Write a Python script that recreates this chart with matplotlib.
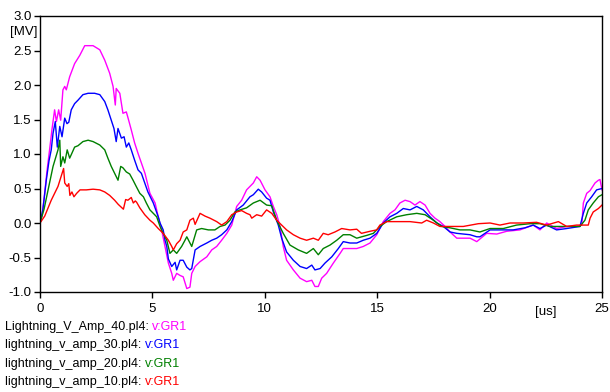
import matplotlib
matplotlib.use("Agg")
import matplotlib.pyplot as plt

plt.rcParams['font.family'] = ['Liberation Sans', 'DejaVu Sans']

# Time axis in microseconds, voltages in MV
t_40 = [0, 0.09, 0.18, 0.31, 0.44, 0.53, 0.65, 0.73, 0.83, 0.92, 1.02, 1.10, 1.17, 1.32,
        1.54, 1.77, 1.99, 2.36, 2.66, 2.88, 3.10, 3.25, 3.35, 3.39, 3.55, 3.69, 3.84, 3.91,
        4.06, 4.21, 4.36, 4.51, 4.67, 4.89, 5.12, 5.26, 5.41, 5.56, 5.71, 5.86, 5.93, 6.08,
        6.23, 6.37, 6.53, 6.67, 6.75, 6.90, 7.12, 7.42, 7.64, 7.86, 8.08, 8.31, 8.53, 8.75,
        8.97, 9.19, 9.34, 9.49, 9.64, 9.79, 10.01, 10.23, 10.38, 10.53, 10.68, 10.82, 10.97,
        11.27, 11.57, 11.86, 12.09, 12.23, 12.38, 12.53, 12.75, 13.05, 13.35, 13.49, 13.79,
        14.09, 14.38, 14.68, 14.98, 15.27, 15.57, 15.79, 16.01, 16.24, 16.46, 16.68, 16.90,
        17.13, 17.35, 17.57, 17.79, 18.02, 18.24, 18.54, 18.83, 19.13, 19.43, 19.87, 20.32,
        20.76, 21.35, 21.94, 22.24, 22.54, 22.98, 23.43, 23.87, 24.10, 24.17, 24.32, 24.47,
        24.69, 24.84, 24.91, 25.0]
v_40 = [0, 0.10, 0.35, 0.75, 1.10, 1.35, 1.64, 1.47, 1.64, 1.49, 1.93, 1.98, 1.93, 2.12,
        2.31, 2.43, 2.57, 2.57, 2.51, 2.36, 2.17, 1.98, 1.71, 1.95, 1.88, 1.59, 1.61, 1.53,
        1.35, 1.16, 1.01, 0.87, 0.72, 0.43, 0.29, 0.09, -0.10, -0.34, -0.58, -0.73, -0.83, -0.73,
        -0.76, -0.78, -0.95, -0.93, -0.73, -0.63, -0.56, -0.49, -0.39, -0.34, -0.25, -0.15, -0.03, 0.24,
        0.33, 0.48, 0.53, 0.58, 0.67, 0.62, 0.48, 0.38, 0.24, 0.12, -0.05, -0.34, -0.54,
        -0.68, -0.80, -0.85, -0.83, -0.92, -0.92, -0.80, -0.73, -0.58, -0.44, -0.37, -0.37,
        -0.37, -0.34, -0.29, -0.17, 0.02, 0.14, 0.19, 0.29, 0.33, 0.31, 0.26, 0.31,
        0.26, 0.14, 0.07, 0.02, -0.05, -0.13, -0.22, -0.22, -0.22, -0.27, -0.15, -0.16,
        -0.12, -0.10, -0.03, -0.10, 0.00, -0.08, -0.05, -0.05, -0.03, 0.29, 0.43, 0.47,
        0.58, 0.62, 0.63, 0.48]

t_30 = [0, 0.13, 0.28, 0.40, 0.50, 0.58, 0.68, 0.77, 0.88, 0.98, 1.10, 1.20, 1.28, 1.39,
        1.54, 1.69, 1.91, 2.14, 2.43, 2.66, 2.88, 3.02, 3.17, 3.29, 3.39, 3.47, 3.62, 3.74,
        3.84, 3.95, 4.06, 4.21, 4.36, 4.51, 4.66, 4.80, 5.04, 5.26, 5.34, 5.48, 5.56, 5.64,
        5.71, 5.86, 6.01, 6.08, 6.23, 6.37, 6.53, 6.67, 6.75, 6.90, 7.12, 7.42, 7.64, 7.86,
        8.08, 8.31, 8.53, 8.75, 9.04, 9.34, 9.49, 9.71, 9.86, 10.08, 10.23, 10.38, 10.60,
        10.75, 10.97, 11.27, 11.57, 11.86, 12.09, 12.23, 12.46, 12.68, 12.98, 13.27, 13.49,
        13.79, 14.09, 14.38, 14.68, 14.98, 15.27, 15.57, 15.87, 16.16, 16.46, 16.76, 17.05,
        17.35, 17.65, 17.94, 18.24, 18.54, 19.13, 19.43, 19.57, 20.02, 20.46, 21.05, 21.57,
        21.94, 22.24, 22.54, 22.98, 23.43, 24.02, 24.17, 24.32, 24.54, 24.76, 25.0]
v_30 = [0, 0.20, 0.62, 0.90, 1.06, 1.30, 1.47, 1.10, 1.40, 1.25, 1.52, 1.44, 1.46, 1.64,
        1.73, 1.78, 1.86, 1.88, 1.88, 1.86, 1.76, 1.64, 1.49, 1.37, 1.18, 1.37, 1.23, 1.25,
        1.10, 1.16, 1.06, 0.91, 0.77, 0.72, 0.58, 0.45, 0.29, 0.09, 0.00, -0.10, -0.25, -0.34,
        -0.52, -0.63, -0.57, -0.68, -0.54, -0.54, -0.64, -0.68, -0.66, -0.39, -0.34, -0.29, -0.25, -0.22,
        -0.17, -0.10, 0.02, 0.19, 0.26, 0.38, 0.41, 0.49, 0.45, 0.36, 0.33, 0.16, -0.03,
        -0.22, -0.42, -0.54, -0.63, -0.66, -0.61, -0.68, -0.66, -0.58, -0.49, -0.37, -0.27,
        -0.29, -0.29, -0.25, -0.22, -0.15, 0.00, 0.09, 0.14, 0.21, 0.19, 0.24, 0.19,
        0.09, 0.00, -0.05, -0.13, -0.15, -0.17, -0.20, -0.20, -0.10, -0.10, -0.10, -0.07,
        -0.03, -0.08, -0.03, -0.10, -0.08, -0.05, 0.14, 0.29, 0.38, 0.48, 0.50]

t_20 = [0, 0.18, 0.36, 0.58, 0.80, 0.88, 0.92, 1.02, 1.10, 1.21, 1.32, 1.39, 1.54, 1.69,
        1.91, 2.14, 2.36, 2.66, 2.88, 3.02, 3.17, 3.32, 3.47, 3.59, 3.69, 3.84, 3.99, 4.14,
        4.28, 4.44, 4.60, 4.73, 4.89, 5.19, 5.34, 5.48, 5.64, 5.78, 5.93, 6.08, 6.30, 6.45,
        6.53, 6.75, 6.97, 7.19, 7.49, 7.78, 8.01, 8.23, 8.45, 8.67, 8.90, 9.19, 9.49, 9.79,
        10.08, 10.31, 10.53, 10.82, 11.12, 11.49, 11.86, 12.16, 12.38, 12.60, 12.90, 13.20,
        13.49, 13.79, 14.09, 14.53, 14.83, 15.12, 15.42, 15.87, 16.31, 16.76, 17.13, 17.50,
        17.87, 18.24, 18.68, 19.13, 19.57, 20.02, 20.61, 21.20, 21.80, 22.24, 22.69, 23.28,
        24.02, 24.24, 24.39, 24.61, 24.84, 25.0]
v_20 = [0, 0.20, 0.48, 0.82, 1.06, 1.20, 0.82, 0.96, 0.87, 1.06, 0.94, 0.99, 1.10, 1.12,
        1.18, 1.20, 1.18, 1.13, 1.06, 0.94, 0.82, 0.72, 0.62, 0.82, 0.80, 0.74, 0.71, 0.62,
        0.53, 0.43, 0.38, 0.29, 0.19, 0.09, -0.05, -0.15, -0.25, -0.44, -0.39, -0.44, -0.34, -0.25,
        -0.20, -0.34, -0.10, -0.08, -0.10, -0.10, -0.05, -0.03, 0.04, 0.16, 0.19, 0.22, 0.29, 0.33,
        0.26, 0.25, 0.04, -0.15, -0.32, -0.39, -0.44, -0.37, -0.46, -0.37, -0.32, -0.25,
        -0.17, -0.17, -0.22, -0.18, -0.15, -0.05, 0.02, 0.09, 0.12, 0.14, 0.12, 0.04,
        -0.05, -0.07, -0.10, -0.10, -0.13, -0.08, -0.08, -0.03, -0.01, -0.01, -0.05, -0.05,
        -0.05, 0.04, 0.19, 0.29, 0.38, 0.41]

t_10 = [0, 0.21, 0.50, 0.80, 1.05, 1.10, 1.21, 1.28, 1.33, 1.42, 1.51, 1.63, 1.78, 2.06,
        2.36, 2.66, 2.88, 3.10, 3.32, 3.48, 3.71, 3.81, 3.91, 4.06, 4.15, 4.24, 4.30, 4.44,
        4.66, 4.89, 5.04, 5.26, 5.48, 5.71, 5.86, 5.93, 6.08, 6.23, 6.37, 6.53, 6.67, 6.82,
        6.90, 7.12, 7.34, 7.56, 7.86, 8.08, 8.31, 8.53, 8.75, 8.97, 9.19, 9.34, 9.42, 9.64,
        9.86, 10.08, 10.31, 10.53, 10.75, 10.97, 11.27, 11.57, 11.86, 12.16, 12.38, 12.60,
        12.82, 13.12, 13.42, 13.79, 14.09, 14.30, 14.68, 14.98, 15.12, 15.42, 15.87, 16.46,
        16.98, 17.20, 17.50, 17.79, 18.24, 18.83, 19.50, 20.02, 20.46, 20.91, 21.50, 22.09,
        22.54, 23.06, 23.43, 23.87, 24.39, 24.47, 24.61, 24.84, 25.0]
v_10 = [0, 0.10, 0.33, 0.53, 0.79, 0.58, 0.53, 0.57, 0.40, 0.45, 0.38, 0.43, 0.48, 0.48,
        0.49, 0.48, 0.45, 0.40, 0.33, 0.27, 0.20, 0.34, 0.33, 0.37, 0.29, 0.32, 0.30, 0.22,
        0.12, 0.04, 0.00, -0.08, -0.15, -0.25, -0.34, -0.39, -0.30, -0.25, -0.13, -0.10, 0.04, 0.07,
        -0.02, 0.14, 0.10, 0.07, 0.02, -0.03, 0.02, 0.12, 0.16, 0.18, 0.14, 0.12, 0.07, 0.12,
        0.10, 0.19, 0.14, 0.04, -0.03, -0.10, -0.17, -0.22, -0.25, -0.22, -0.25, -0.15,
        -0.17, -0.13, -0.08, -0.10, -0.09, -0.15, -0.12, -0.10, -0.03, 0.02, 0.02, 0.02,
        0.00, 0.04, 0.00, -0.05, -0.05, -0.05, -0.01, 0.00, -0.03, 0.00, 0.00, 0.01,
        -0.03, 0.02, -0.05, -0.03, -0.03, 0.07, 0.16, 0.21, 0.26]

file_names = ["Lightning_V_Amp_40.pl4: ", "lightning_v_amp_30.pl4: ",
              "lightning_v_amp_20.pl4: ", "lightning_v_amp_10.pl4: "]
signal_name = "v:GR1"
colors = ["#FF00FF", "#0000FF", "#008000", "#FF0000"]

x_ticks = [0, 5, 10, 15, 20, 25]
y_ticks = [-1.0, -0.5, 0.0, 0.5, 1.0, 1.5, 2.0, 2.5, 3.0]

fig = plt.figure(figsize=(6.10, 3.92), dpi=100)
ax = fig.add_axes([40 / 610, 1 - 292 / 392, 562 / 610, 276 / 392])

series = [(t_40, v_40), (t_30, v_30), (t_20, v_20), (t_10, v_10)]
for (t, v), c in zip(series, colors):
    ax.plot(t, v, color=c, lw=1.0)

ax.set_xlim(0, 25)
ax.set_ylim(-1.0, 3.0)
ax.set_xticks(x_ticks)
ax.set_xticklabels([str(x) for x in x_ticks])
ax.set_yticks(y_ticks)
ax.set_yticklabels([f"{y:.1f}" for y in y_ticks])
ax.tick_params(direction='out', length=4, width=1, labelsize=9.5, colors='black')
ax.tick_params(axis='x', pad=4)
ax.tick_params(axis='y', pad=2)
for s in ax.spines.values():
    s.set_linewidth(1.0)
    s.set_color('black')

fig.text(10 / 610, 1 - 32 / 392, "[MV]", fontsize=9.5, va='center', ha='left')
fig.text(535 / 610, 1 - 312 / 392, "[us]", fontsize=9.5, va='center', ha='left')

fig.canvas.draw()
renderer = fig.canvas.get_renderer()
row_y = [327, 345, 364, 382]
for name, c, py in zip(file_names, colors, row_y):
    txt = fig.text(5 / 610, 1 - py / 392, name, fontsize=9, va='center', ha='left', color='black')
    bb = txt.get_window_extent(renderer=renderer)
    fig.text(bb.x1 / fig.bbox.width, 1 - py / 392, signal_name, fontsize=9,
             va='center', ha='left', color=c)

fig.savefig("out.png", dpi=100)
